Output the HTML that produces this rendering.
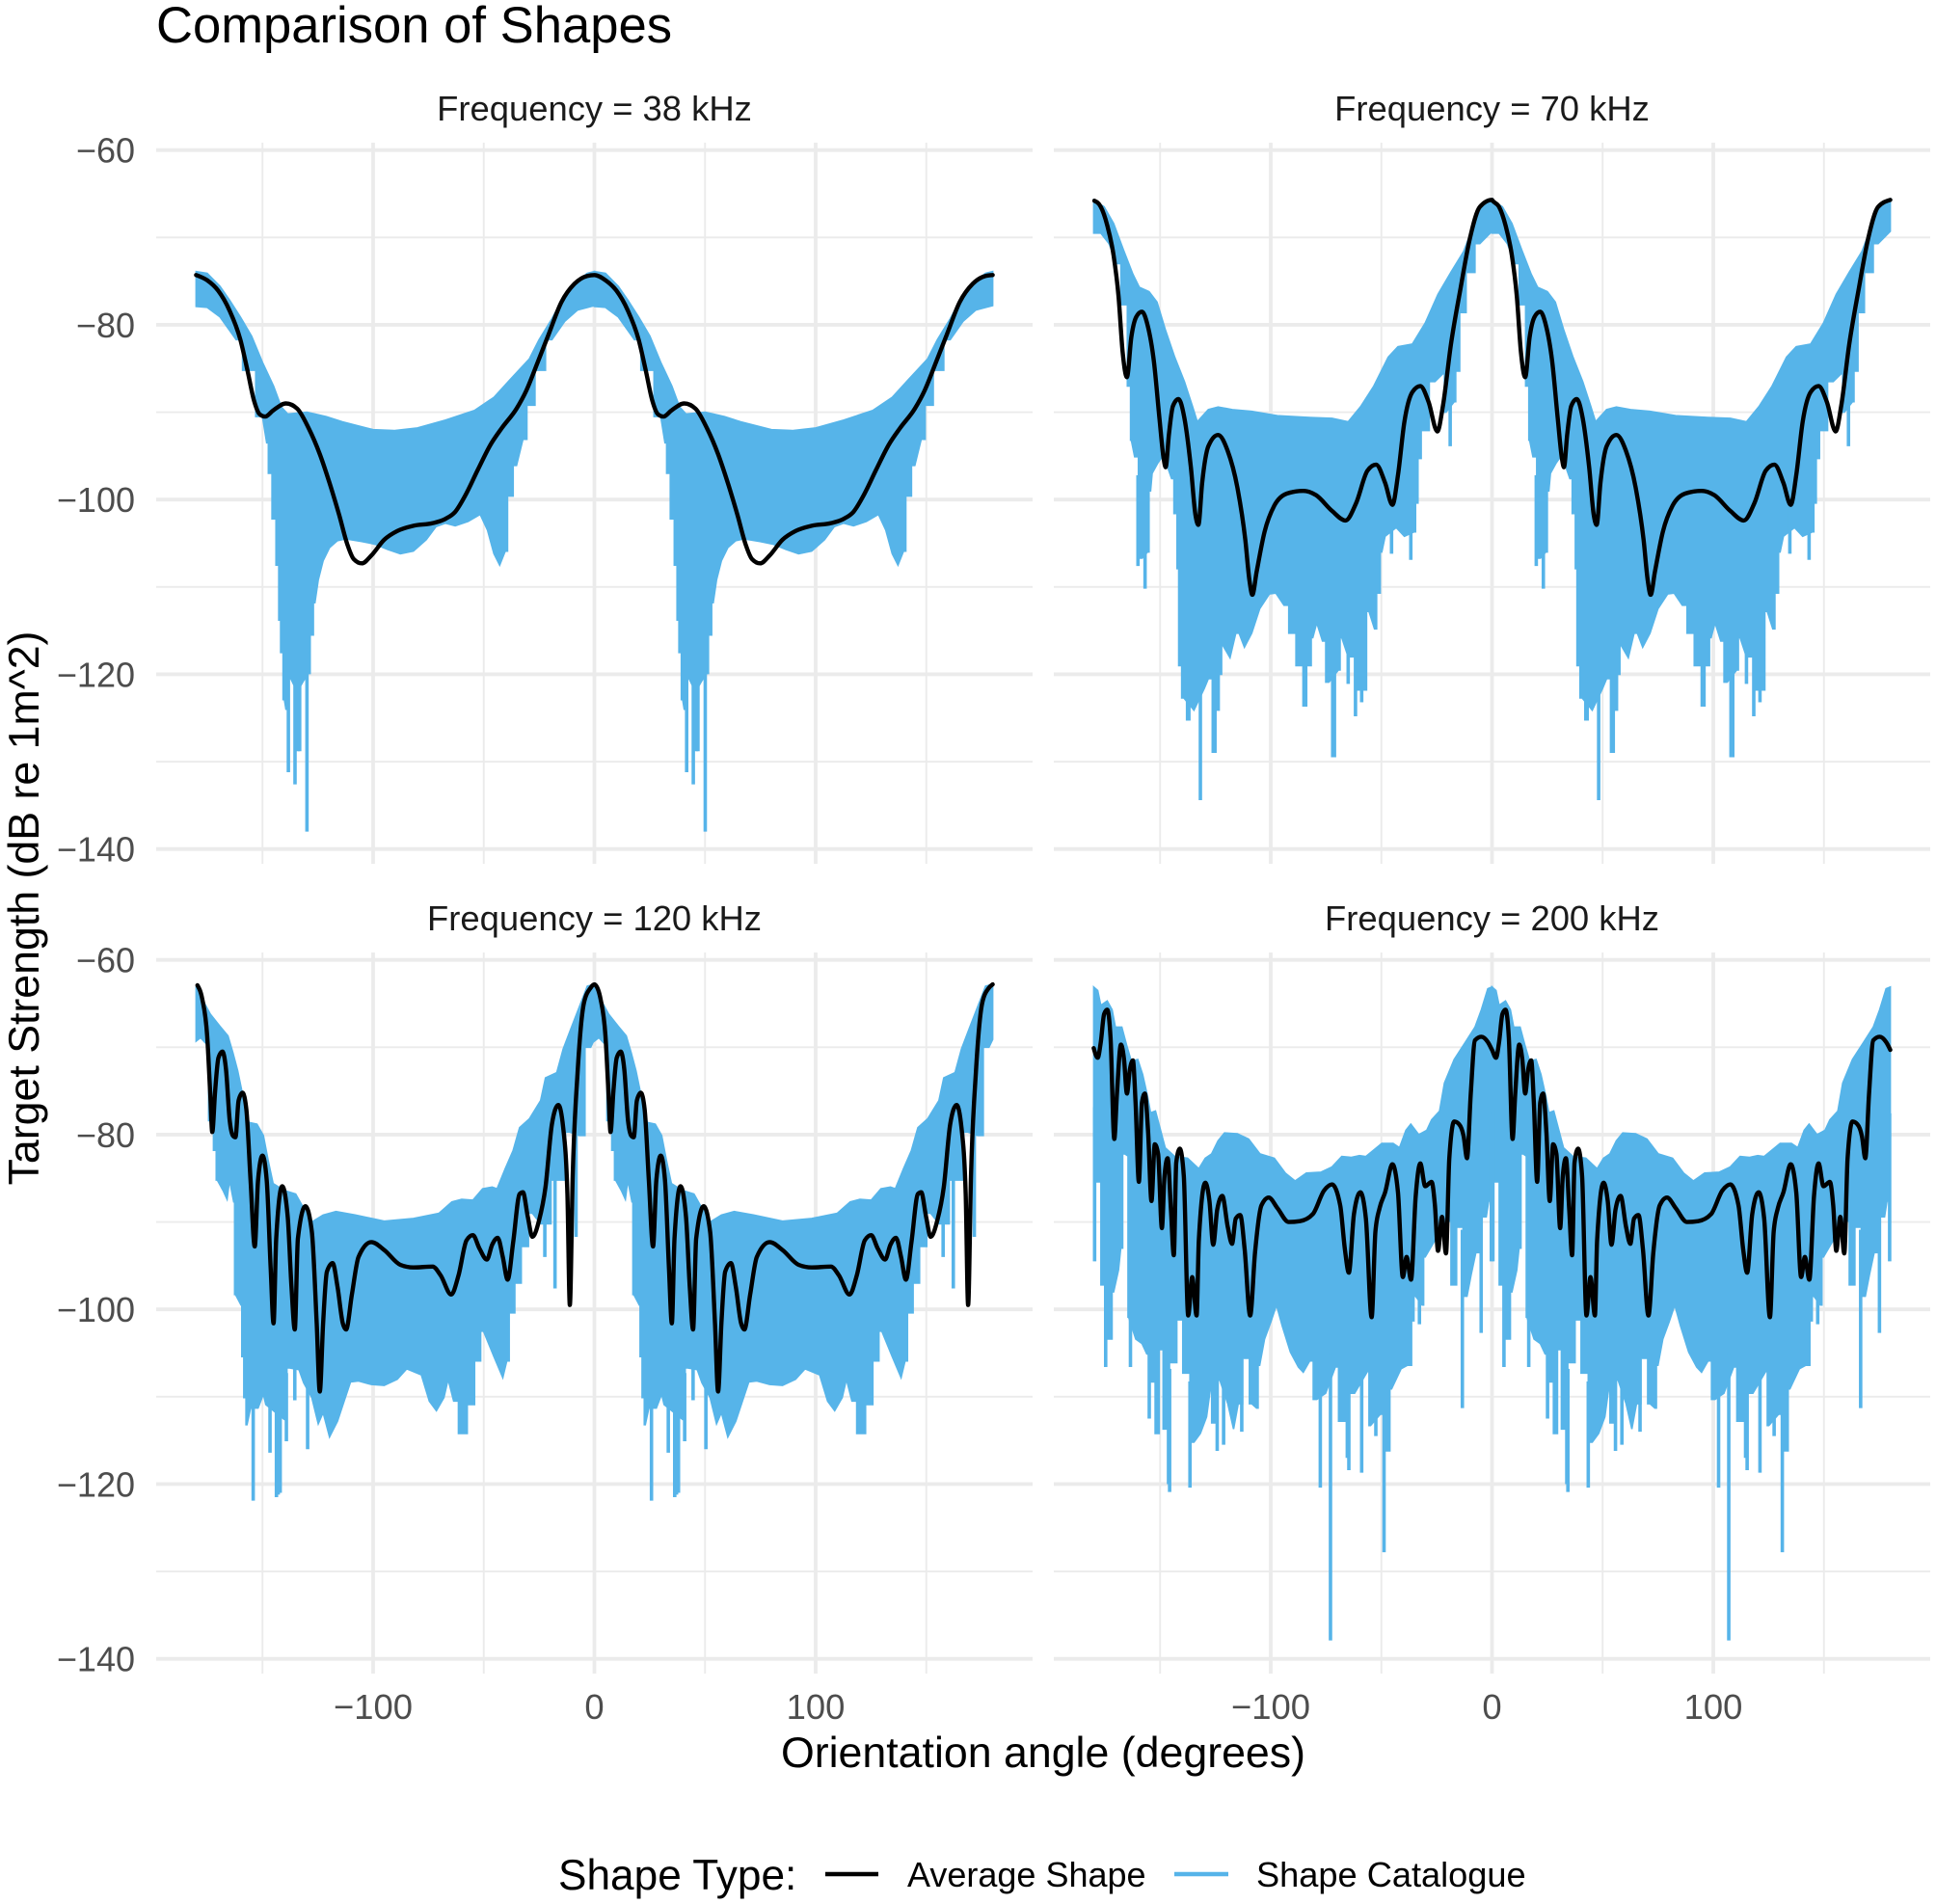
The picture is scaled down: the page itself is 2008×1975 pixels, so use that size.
<!DOCTYPE html>
<html lang="en">
<head>
<meta charset="utf-8">
<title>Comparison of Shapes</title>
<style>
html,body{margin:0;padding:0;background:#fff;}
svg{display:block;font-family:"Liberation Sans",sans-serif;}
</style>
</head>
<body>
<svg id="chart" xmlns="http://www.w3.org/2000/svg" width="2008" height="1975" viewBox="0 0 2008 1975">
  <rect x="0" y="0" width="2008" height="1975" fill="#ffffff"/>
  <text x="162" y="44" font-size="52.6" fill="#000">Comparison of Shapes</text>
  <text x="1082" y="1833" font-size="44.7" text-anchor="middle" fill="#000">Orientation angle (degrees)</text>
  <text transform="translate(40,942) rotate(-90)" font-size="44.7" text-anchor="middle" fill="#000">Target Strength (dB re 1m^2)</text>
  <g id="panels"></g>
  <g>
    <text x="579" y="1960" font-size="44.2" fill="#000">Shape Type:</text>
    <line x1="856" x2="911" y1="1944" y2="1944" stroke="#000" stroke-width="4.6"/>
    <text x="941" y="1957" font-size="36" fill="#000">Average Shape</text>
    <line x1="1218" x2="1274" y1="1944" y2="1944" stroke="#56B4E9" stroke-width="4.6"/>
    <text x="1303" y="1957" font-size="36.2" fill="#000">Shape Catalogue</text>
  </g>
</svg>
<script>
// Axis ticks
const yMajorTicks = [-60, -80, -100, -120, -140];
const yMinorTicks = [-70, -90, -110, -130];
const yTickLabels = ["\u221260", "\u221280", "\u2212100", "\u2212120", "\u2212140"];
const xMajorTicks = [-100, 0, 100];
const xMinorTicks = [-150, -50, 50, 150];
const xTickLabels = ["\u2212100", "0", "100"];
const panelTitles = ["Frequency = 38 kHz", "Frequency = 70 kHz", "Frequency = 120 kHz", "Frequency = 200 kHz"];
const halfCycleShifts = [0, 180];

// 38 kHz
const upperAngles38 = [-180,-175,-169.2,-164.8,-160,-154.9,-150,-145,-141.5,-138.6,-129.9,-121.2,-113.9,-100,-90.6,-80,-67.3,-54.2,-45.4,-38.2,-29.4,-25,-19.2,-14.1,-9,-3.2,0];
const upperValues38 = [-73.9,-74.1,-75.6,-77.2,-79.1,-81.3,-84.3,-87,-89.4,-90.2,-90,-90.5,-91.1,-92,-92.1,-91.8,-90.9,-89.8,-88.3,-86.3,-83.9,-81.7,-79.3,-76.9,-75.2,-74.1,-73.9];
const lowerAngles38 = [-180,-175,-169.2,-161.9,-156.1,-150,-148.1,-146.6,-144.8,-143,-142.3,-141.3,-140.1,-139.4,-137.2,-134.3,-131.6,-129.2,-127.7,-126.3,-124.8,-122.6,-119.7,-116.1,-112.4,-105.1,-99.3,-93.5,-87.7,-81.8,-76,-71.6,-67.3,-62.9,-57.1,-51.6,-48.3,-45.4,-42.8,-40.3,-38.2,-35.2,-32.3,-28.7,-25,-19.2,-13.4,-7.6,0];
const lowerValues38 = [-77.9,-78,-79.1,-81.7,-85.2,-90.5,-93.5,-97,-102.2,-107.5,-113.8,-117.5,-122.9,-124,-120.5,-122,-120.8,-119.9,-115.5,-111.8,-109.2,-107,-105.5,-104.7,-104.5,-104.8,-105.1,-105.7,-106.2,-105.9,-104.6,-103.1,-102.7,-103,-102.5,-101.7,-103.5,-106.2,-107.5,-105.9,-99.6,-96.1,-93.1,-89.2,-85.2,-81.7,-79.6,-78.3,-77.8];
const spikeAngles38 = [-138.3,-135.3,-134,-133.2,-129.9];
const spikeValues38 = [-131.2,-132.6,-128.8,-128.8,-138];
const averageAngles38 = [-180,-175,-170,-165,-160,-156.8,-153.8,-151.4,-148.8,-145.2,-139.4,-134.3,-129.2,-124.1,-119.7,-115.3,-111.7,-108.8,-105.1,-100.8,-95,-89.1,-81.8,-73.1,-67.3,-62.9,-58.5,-52.7,-46.9,-41.8,-35.2,-30.9,-25.8,-20.7,-14.9,-9,-3.2,0];
const averageValues38 = [-74.3,-74.9,-76.1,-78.3,-81.7,-85.2,-88.7,-90.2,-90.5,-89.8,-89,-89.6,-91.8,-94.8,-98.1,-101.8,-105.1,-106.8,-107.3,-106.4,-104.6,-103.6,-103,-102.7,-102.2,-101.4,-99.6,-96.6,-93.7,-91.8,-89.6,-87.6,-84.4,-81.1,-77.4,-75.3,-74.4,-74.3];

// 70 kHz
const upperAngles70 = [-180,-175.3,-171,-166.6,-162.3,-159.4,-155,-151.4,-147.7,-143.4,-139,-135.4,-133.2,-128.2,-123.8,-117.3,-108.6,-97,-82.4,-72.3,-65,-59.2,-53.4,-46.9,-42.5,-36,-30.2,-24.4,-18.6,-12.8,-7,-5.5,0];
const upperValues70 = [-65.7,-66.5,-68.4,-71.4,-74.2,-75.7,-76.2,-77.4,-80.5,-83.7,-86.5,-89.3,-91.1,-89.7,-89.4,-89.7,-89.9,-90.4,-90.6,-90.7,-91.1,-89.3,-87,-83.7,-82.5,-82.2,-79.8,-76.5,-74,-71.6,-67.7,-66.6,-65.6];
const lowerAngles70 = [-180,-176.8,-173.1,-169.5,-165.9,-163.7,-163,-161.5,-158.1,-155.7,-154.3,-153.6,-151,-148.5,-144.8,-142.7,-142,-141.2,-139.3,-134.7,-130,-128.2,-123.8,-122.8,-121.6,-118.4,-115.8,-114.3,-111.9,-108.6,-105,-100.6,-97.7,-94,-89.7,-87.5,-82.4,-81,-79.2,-76.6,-73.7,-69.4,-67.9,-65,-57.8,-55.6,-53.1,-51.2,-49.8,-48.3,-43.3,-39.6,-35.3,-33.8,-33.1,-30.9,-25.8,-22.2,-20.8,-17.1,-15.7,-13.5,-9.9,-5.5,0];
const lowerValues70 = [-69.5,-69.5,-70.7,-73,-77.7,-87,-93.2,-95.1,-106.7,-106,-99,-97,-95.8,-94.9,-97.6,-101.6,-107.9,-119,-122.7,-124.1,-121.6,-120.5,-124.1,-120,-116.7,-118.1,-115.3,-115.3,-116.9,-115.3,-112.5,-110.8,-110.7,-112.1,-115.3,-119,-119,-115.8,-114.1,-116.2,-120.9,-119.5,-115.8,-118,-121.8,-112.8,-114.8,-110.7,-106,-104.2,-103.2,-104.2,-103.7,-100.4,-95.3,-92.1,-86.5,-85.6,-90,-88.8,-85.3,-78.6,-74,-70.7,-69.3];
const spikeAngles70 = [-160,-156.8,-137.6,-137,-131.8,-126,-125.2,-85,-84.2,-72,-71.2,-65,-61.7,-58.9,-45.4,-36.7,-18.9];
const spikeValues70 = [-107.6,-110.2,-125.3,-125.3,-134.4,-129,-129,-123.7,-123.7,-129.5,-129.5,-121.1,-124.8,-123.2,-106.2,-106.9,-93.9];
const averageAngles70 = [-179.7,-176.8,-173.9,-171,-168.8,-166.9,-165,-163,-160.8,-158.2,-155.7,-152.8,-150.3,-148.4,-147.5,-146,-144.2,-141.7,-139,-136.1,-134,-132.7,-131,-128.2,-123.8,-119.5,-115.1,-111.5,-109.6,-108.3,-106.4,-102.8,-98.4,-92.6,-85.3,-79.5,-72.3,-66.2,-61.4,-56.3,-52.4,-48.3,-45,-42.5,-39.6,-36,-32.4,-28.7,-24.7,-22.2,-18.6,-14.2,-9.9,-5.5,0];
const averageValues70 = [-65.8,-66.5,-68.6,-72.1,-76.7,-83.2,-86,-81.4,-79.1,-78.5,-80,-84.2,-90.7,-95.3,-96.3,-92.5,-89.3,-88.5,-90.7,-96.3,-101.8,-102.9,-98.1,-93.9,-92.6,-94.4,-98.6,-104.6,-109.3,-110.9,-108.3,-103.7,-100.7,-99.3,-99,-99.5,-101.3,-102.4,-100.4,-96.7,-96,-98.1,-100.6,-97.2,-91.1,-87.7,-87,-88.8,-92.2,-89.3,-82.3,-75.8,-70,-66.5,-65.7];

// 120 kHz
const upperAngles120 = [-180,-177.2,-173.6,-169.2,-165.6,-163.4,-161.2,-159,-156.1,-152.5,-149.6,-147.4,-145.2,-140.1,-135,-132.1,-127.7,-122.6,-116.8,-108.1,-95,-81.8,-70.2,-64.4,-60,-54.9,-50.5,-46.2,-44,-40.3,-36.7,-33.8,-29.4,-24.3,-22.1,-17,-14.1,-10.5,-3.2,0];
const upperValues120 = [-63,-64.5,-66.2,-67.6,-68.7,-70.6,-72.7,-75.4,-78.6,-78.8,-80.1,-83,-85.6,-86.4,-86.8,-88.1,-90,-89.2,-88.8,-89.2,-89.9,-89.6,-89,-87.7,-87.4,-87.5,-86.2,-86,-86.2,-83.9,-81.8,-79.2,-78.2,-76.1,-73.5,-72.9,-70.2,-67.8,-63,-62.8];
const lowerAngles120 = [-180,-178,-175.8,-172.9,-171.4,-170.4,-167.8,-166,-164.9,-163,-162.2,-159.7,-159,-157.9,-157,-155.4,-152,-149.6,-148.5,-140.1,-137.8,-133.5,-131.4,-127.7,-124.8,-122.6,-119.7,-116.1,-113.1,-110.2,-106.6,-100.8,-95,-89.1,-84.8,-78.2,-74.6,-71.4,-68,-66.1,-63.6,-59.3,-55.6,-52.7,-50.1,-45.4,-41.4,-39.6,-37.4,-34.5,-31.6,-28,-24.3,-14.9,-11.2,-6.8,-1.7,0];
const lowerValues120 = [-69.3,-68.9,-69.5,-78.4,-81.8,-85.2,-86.4,-87.4,-85.2,-87.7,-98.3,-99.5,-105.4,-110.1,-113.2,-111.3,-111.3,-109.7,-110.9,-112.6,-106.7,-106.9,-108.4,-110.1,-113.1,-111.8,-114.6,-112.8,-110.5,-108.3,-108.2,-108.6,-108.7,-108,-106.8,-107.5,-110.5,-111.6,-110.1,-108,-110.5,-114.2,-110.9,-105.9,-102.5,-105.4,-107.8,-105.9,-100.4,-97,-92.8,-89,-90.2,-85.2,-79.7,-80.1,-70,-69.1];
const spikeAngles120 = [-154.2,-146.6,-143.7,-142.9,-142,-139.2,-135.4,-129.6,-22.4,-17.8,-8.3];
const spikeValues120 = [-121.9,-116.4,-121.5,-121.2,-121,-115.1,-110.4,-116,-94,-97.6,-91.7];
const averageAngles120 = [-179.4,-177.2,-175,-173.6,-172.7,-171.4,-169.9,-168.1,-166.5,-164.8,-163.4,-162.2,-160.8,-159,-157.3,-155.4,-153.5,-152,-150,-148.1,-146.3,-145,-143.8,-141.1,-138.6,-136.9,-135.4,-134,-130.6,-127.7,-125.5,-124.1,-122.6,-120.9,-118.3,-116.1,-113.7,-112.2,-109.6,-106.6,-100.8,-95,-87.7,-81.8,-73.1,-69.5,-64.7,-61.4,-57.8,-54.9,-52,-48.6,-46.2,-43.7,-41.4,-39.2,-36.7,-33.8,-32.3,-30.1,-28,-25,-22.1,-19.2,-16.3,-14.1,-12.2,-11.1,-9.8,-7.6,-4.7,-1.7,0];
const averageValues120 = [-62.9,-64.5,-68.7,-75.4,-79.7,-75,-71.2,-70.5,-72.5,-78.4,-80.1,-80.3,-76.1,-75.2,-77.1,-85.2,-92.8,-85.2,-82.4,-85.2,-95.3,-101.6,-91.9,-85.9,-89.4,-97.4,-102.3,-91.9,-88.2,-91.1,-101.6,-109.4,-101.6,-95.7,-94.7,-97.4,-101.6,-102.3,-98.3,-94,-92.3,-93.2,-94.9,-95.2,-95.1,-96.1,-98.3,-96.1,-92.1,-91.5,-93,-94.3,-92.6,-91.8,-94,-96.6,-92.3,-86.8,-86.6,-89.4,-91.7,-89.8,-86,-78.8,-76.6,-79.2,-86.8,-99.5,-84.7,-72.9,-64.9,-63.2,-62.8];

// 200 kHz
const upperAngles200 = [-180,-178.2,-176.8,-173.9,-171.7,-170.2,-167.3,-165.2,-163,-160.1,-157.9,-155.7,-154.3,-152.1,-150,-147.7,-143.4,-137.6,-132.5,-129.6,-126.7,-123.8,-120.9,-115.1,-110,-104.9,-98.4,-93.4,-89,-83.9,-77.4,-72.3,-67.9,-63.6,-59.9,-57,-49.8,-44.7,-41.8,-38.9,-36.7,-33.1,-29.5,-27.3,-23.7,-21.5,-17.1,-12,-7.7,-4.8,-1.9,0];
const upperValues200 = [-63.1,-63.5,-65.2,-64.7,-65.7,-67.7,-67.7,-69.7,-71.6,-71.4,-73.1,-75.6,-77.5,-77.3,-79.3,-81.5,-82.5,-82.7,-83.9,-82.7,-82.2,-80.7,-79.8,-79.9,-80.5,-82.2,-82.7,-84.4,-85.3,-84.4,-84.3,-83.7,-82.5,-82.6,-82.4,-82.5,-81,-81,-81.5,-79.5,-78.8,-80,-79.5,-78.3,-77.3,-74.1,-71.4,-69.4,-67.7,-65.7,-63.3,-63.1];
const lowerAngles200 = [-180,-177.5,-176,-172.4,-171,-168.8,-167.8,-166,-164.8,-164.2,-161,-158.2,-156,-153.2,-151.3,-149.5,-147.8,-143.7,-141.2,-138.3,-134.7,-131.8,-129,-127.4,-126,-123,-119.4,-116.8,-114.7,-110.7,-108.6,-106.4,-105,-102.8,-99.9,-97.4,-94.8,-91.1,-87.5,-85.3,-82.4,-79.2,-75.2,-70.8,-67.9,-62.1,-56.3,-54.9,-50.5,-46.9,-45.4,-41.1,-38.2,-34.5,-31.6,-30.2,-25.8,-20,-17.1,-14.9,-11.3,-9.4,-7.3,-2.6,-1.5,0];
const lowerValues200 = [-78.8,-85.4,-97.2,-103.4,-98,-95.5,-93,-82.2,-82.4,-100.9,-103.4,-103.9,-105.1,-108.3,-114.2,-104.6,-113.7,-106.1,-101.2,-107.3,-115.2,-114.2,-112.3,-109.3,-113,-108.1,-110.8,-113.7,-110.8,-105.6,-110.8,-111.3,-106.4,-103.4,-101.4,-99.5,-101.9,-104.9,-106.6,-107.2,-105.9,-110.3,-109.6,-106.6,-112.8,-109.6,-107.1,-113.3,-112,-116.2,-109.1,-106.8,-106.4,-98.5,-99.5,-94,-92.1,-89.9,-97.2,-90.6,-98.5,-96,-93.5,-89.4,-87.6,-78.8];
const spikeAngles200 = [-179.6,-174.6,-163.4,-154.9,-146.2,-145.7,-136.5,-124.2,-121.3,-113.1,-77.6,-73,-65.4,-64.7,-58.9,-52.5,-48.8,-35.7,-32.8,-13.4,-4.9,-0.3];
const spikeValues200 = [-94.5,-106.6,-106.6,-112.5,-120,-120.9,-120.4,-116.2,-115.5,-114,-120.4,-137.9,-117,-118.4,-118.7,-114.5,-127.8,-101.4,-101.7,-111.3,-102.7,-94.5];
const averageAngles200 = [-180,-178.2,-176.8,-175.3,-173.9,-172.4,-170.7,-169.5,-167.7,-166.3,-165,-163.7,-162.3,-161.1,-159.6,-158.2,-156.9,-155.4,-153.9,-152.4,-150.9,-149.2,-148,-146.6,-145.1,-143.8,-142.7,-141.1,-139.3,-137.3,-135.5,-133.5,-132.5,-129.6,-127.7,-126,-124.2,-121.9,-119.4,-117.5,-115.8,-113.8,-111.8,-109.3,-107.1,-104.2,-100.9,-97,-91.9,-86.8,-81,-75.9,-72.3,-68.6,-66.5,-64.7,-62.4,-59.5,-57,-54.4,-52.7,-50.8,-48.3,-45,-42.5,-40.3,-38.6,-36.6,-34.5,-32.4,-30.2,-27.3,-25.8,-24.4,-22.6,-20.8,-19.3,-17.1,-14.9,-12.8,-11.3,-9.6,-7.7,-4.8,-1.9,0];
const averageValues200 = [-70.1,-71.2,-69.4,-66.2,-65.7,-68.9,-80.5,-75.3,-69.7,-71.4,-75.3,-72.6,-71.5,-76.3,-85.4,-76.3,-75.3,-79.8,-87.6,-81.1,-82.2,-90.7,-84.7,-82.7,-88.6,-93.8,-83.2,-81.6,-84.7,-100.7,-96.3,-100.7,-92.1,-85.5,-87.6,-92.6,-88.6,-87,-90.6,-92.5,-89.6,-89.2,-93.1,-100.7,-93.5,-88.1,-87.2,-88.4,-90,-89.9,-89.1,-86.4,-85.7,-88.1,-93.1,-95.8,-89.1,-86.6,-89.6,-100.9,-91.1,-88.4,-86.6,-83.4,-86.6,-96.3,-94,-96.6,-87.1,-83.3,-85.9,-85.4,-88.1,-93.3,-89.4,-93.6,-82.7,-78.5,-78.8,-80.2,-82.7,-75.3,-69.2,-68.8,-69.4,-70.3];

// Layout (not data)
const GRID = "#ebebeb", BLUE = "#56B4E9", TICK_TEXT = "#4d4d4d", STRIP_TEXT = "#1a1a1a";
const PANEL_W = 909, PANEL_H = 748, X_PER_DEG = 2.295, Y_PER_DB = 9.0625, STEP_DB = 3;
const panelsLayout = [
  {left:162,  top:148, showY:true,  showX:false, key:"38"},
  {left:1093, top:148, showY:false, showX:false, key:"70"},
  {left:162,  top:988, showY:true,  showX:true,  key:"120"},
  {left:1093, top:988, showY:false, showX:true,  key:"200"}
];
const seriesByKey = {
  "38":  {ua:upperAngles38,  uv:upperValues38,  la:lowerAngles38,  lv:lowerValues38,  sa:spikeAngles38,  sv:spikeValues38,  aa:averageAngles38,  av:averageValues38},
  "70":  {ua:upperAngles70,  uv:upperValues70,  la:lowerAngles70,  lv:lowerValues70,  sa:spikeAngles70,  sv:spikeValues70,  aa:averageAngles70,  av:averageValues70},
  "120": {ua:upperAngles120, uv:upperValues120, la:lowerAngles120, lv:lowerValues120, sa:spikeAngles120, sv:spikeValues120, aa:averageAngles120, av:averageValues120},
  "200": {ua:upperAngles200, uv:upperValues200, la:lowerAngles200, lv:lowerValues200, sa:spikeAngles200, sv:spikeValues200, aa:averageAngles200, av:averageValues200}
};
const NS = "http://www.w3.org/2000/svg";
const root = document.getElementById("panels");

function make(tag, attrs, parent){
  const el = document.createElementNS(NS, tag);
  for (const k in attrs) el.setAttribute(k, attrs[k]);
  parent.appendChild(el);
  return el;
}
function xScale(p, a){ return p.left + PANEL_W / 2 + a * X_PER_DEG; }
function yScale(p, v){ return p.top + 7.7 + (-60 - v) * Y_PER_DB; }
// Value of an envelope at an arbitrary angle, used to anchor spikes to the band
function envelopeAt(angles, values, a){
  for (let i = 1; i < angles.length; i++){
    if (a <= angles[i]){
      const f = (a - angles[i-1]) / (angles[i] - angles[i-1]);
      return values[i-1] + f * (values[i] - values[i-1]);
    }
  }
  return values[values.length - 1];
}

// Monotone cubic through the read points so extrema do not overshoot
function monotonePath(xs, ys){
  const n = xs.length, t = new Array(n);
  const sign = v => v < 0 ? -1 : 1;
  for (let i = 1; i < n - 1; i++){
    const h0 = xs[i] - xs[i-1], h1 = xs[i+1] - xs[i];
    const s0 = (ys[i] - ys[i-1]) / h0, s1 = (ys[i+1] - ys[i]) / h1;
    const q = (s0 * h1 + s1 * h0) / (h0 + h1);
    t[i] = (sign(s0) + sign(s1)) * Math.min(Math.abs(s0), Math.abs(s1), 0.5 * Math.abs(q)) || 0;
  }
  t[0] = (3 * (ys[1] - ys[0]) / (xs[1] - xs[0]) - t[1]) / 2;
  t[n-1] = (3 * (ys[n-1] - ys[n-2]) / (xs[n-1] - xs[n-2]) - t[n-2]) / 2;
  let d = "M" + xs[0].toFixed(2) + " " + ys[0].toFixed(2);
  for (let i = 0; i < n - 1; i++){
    const dx = (xs[i+1] - xs[i]) / 3;
    d += "C" + (xs[i] + dx).toFixed(2) + " " + (ys[i] + dx * t[i]).toFixed(2) + " " +
         (xs[i+1] - dx).toFixed(2) + " " + (ys[i+1] - dx * t[i+1]).toFixed(2) + " " +
         xs[i+1].toFixed(2) + " " + ys[i+1].toFixed(2);
  }
  return d;
}

panelsLayout.forEach(function(p, idx){
  const s = seriesByKey[p.key];
  const g = make("g", {}, root);
  
  

  const strip = make("text", {x:p.left + PANEL_W / 2, y:p.top - 23, "font-size":36.4, "text-anchor":"middle", fill:STRIP_TEXT}, g);
  
  
  strip.textContent = panelTitles[idx];

  yMinorTicks.forEach(function(v){
    const l = make("line", {x1:p.left, x2:p.left + PANEL_W, y1:yScale(p, v), y2:yScale(p, v), stroke:GRID, "stroke-width":1.9}, g);
    
    
  });
  xMinorTicks.forEach(function(a){
    const l = make("line", {x1:xScale(p, a), x2:xScale(p, a), y1:p.top, y2:p.top + PANEL_H, stroke:GRID, "stroke-width":1.9}, g);
    
    
  });
  yMajorTicks.forEach(function(v, i){
    const l = make("line", {x1:p.left, x2:p.left + PANEL_W, y1:yScale(p, v), y2:yScale(p, v), stroke:GRID, "stroke-width":3.8}, g);
    
    
    if (p.showY){
      const t = make("text", {x:140, y:yScale(p, v) + 12.8, "font-size":36, "text-anchor":"end", fill:TICK_TEXT}, g);
      
      
      t.textContent = yTickLabels[i];
    }
  });
  xMajorTicks.forEach(function(a, i){
    const l = make("line", {x1:xScale(p, a), x2:xScale(p, a), y1:p.top, y2:p.top + PANEL_H, stroke:GRID, "stroke-width":3.8}, g);
    
    
    if (p.showX){
      const t = make("text", {x:xScale(p, a), y:1783, "font-size":36.4, "text-anchor":"middle", fill:TICK_TEXT}, g);
      
      
      t.textContent = xTickLabels[i];
    }
  });

  // Shape catalogue: filled band plus deep narrow spikes, repeated for each half-cycle
  halfCycleShifts.forEach(function(shift){
    let d = "";
    s.ua.forEach(function(a, i){
      d += (i ? "L" : "M") + xScale(p, a + shift).toFixed(2) + " " + yScale(p, s.uv[i]).toFixed(2);
    });
    // Lower edge: gentle changes stay sloped, large jumps become vertical stairs like the dense lines
    for (let i = s.la.length - 1; i >= 0; i--){
      if (i < s.la.length - 1 && Math.abs(s.lv[i] - s.lv[i+1]) > STEP_DB){
        const midX = xScale(p, (s.la[i] + s.la[i+1]) / 2 + shift).toFixed(2);
        d += "L" + midX + " " + yScale(p, s.lv[i+1]).toFixed(2);
        d += "L" + midX + " " + yScale(p, s.lv[i]).toFixed(2);
      }
      d += "L" + xScale(p, s.la[i] + shift).toFixed(2) + " " + yScale(p, s.lv[i]).toFixed(2);
    }
    const band = make("path", {d:d + "Z", fill:BLUE, stroke:BLUE, "stroke-width":1.6, "stroke-linejoin":"miter"}, g);
    
    

    s.sa.forEach(function(a, i){
      const spikeTop = yScale(p, envelopeAt(s.la, s.lv, a) + 3);
      const sp = make("line", {x1:xScale(p, a + shift), x2:xScale(p, a + shift), y1:spikeTop, y2:yScale(p, s.sv[i]), stroke:BLUE, "stroke-width":3.6}, g);
      
      
    });
  });

  // Average shape
  const xs = [], ys = [];
  halfCycleShifts.forEach(function(shift){
    s.aa.forEach(function(a, i){
      const x = xScale(p, a + shift);
      if (!xs.length || x > xs[xs.length - 1] + 0.01){
        xs.push(x);
        ys.push(yScale(p, s.av[i]));
      }
    });
  });
  const avg = make("path", {d:monotonePath(xs, ys), fill:"none", stroke:"#000", "stroke-width":4.4, "stroke-linejoin":"round", "stroke-linecap":"round"}, g);
  
  
});
</script>
</body>
</html>
